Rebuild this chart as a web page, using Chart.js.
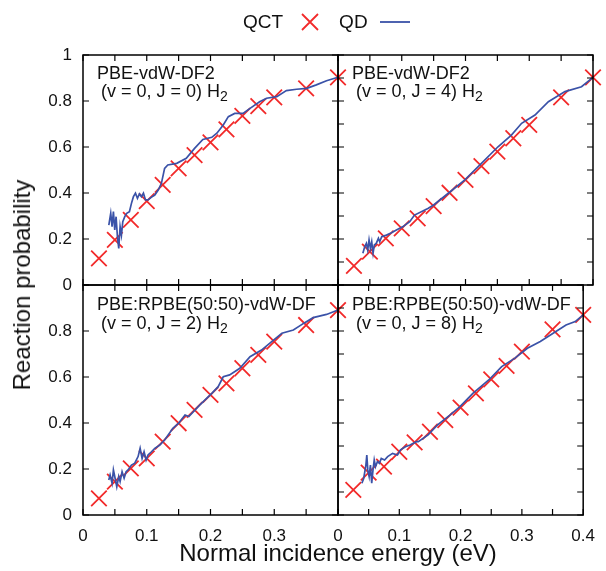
<!DOCTYPE html>
<html>
<head>
<meta charset="utf-8">
<script src="https://cdn.jsdelivr.net/npm/chart.js@4.4.1/dist/chart.umd.min.js"></script>
<style>
  body { margin: 0; background: #fff; }
  #wrap { position: relative; width: 606px; height: 571px; font-family: "Liberation Sans", Arial, sans-serif; color: #111; }
  #wrap canvas { position: absolute; left: 0; top: 0; }
  .lbl { position: absolute; font-size: 18px; line-height: 18px; white-space: nowrap; }
  .lbl sub { font-size: 14px; vertical-align: -4px; line-height: 0; }
  #ytitle { position: absolute; left: 22px; top: 285px; font-size: 24px; white-space: nowrap; transform: translate(-50%, -50%) rotate(-90deg); }
  #xtitle { position: absolute; left: 338px; top: 553px; font-size: 24px; white-space: nowrap; transform: translate(-50%, -50%); }
  #legend { position: absolute; left: 243px; top: 10px; height: 24px; display: flex; align-items: center; font-size: 19px; }
</style>
</head>
<body>
<div id="wrap">
  <canvas id="c00" width="606" height="571"></canvas>
  <canvas id="c01" width="606" height="571"></canvas>
  <canvas id="c10" width="606" height="571"></canvas>
  <canvas id="c11" width="606" height="571"></canvas>

  <div id="legend">
    <span>QCT</span>
    <svg width="20" height="20" style="margin-left:17px"><path d="M2 2 L18 18 M18 2 L2 18" stroke="#f22a2a" stroke-width="1.8"/></svg>
    <span style="margin-left:19px">QD</span>
    <svg width="30" height="20" style="margin-left:12px"><path d="M0 10 L30 10" stroke="#3a52a8" stroke-width="1.8"/></svg>
  </div>

  <div class="lbl" style="left:97px;top:64px">PBE-vdW-DF2</div>
  <div class="lbl" style="left:101px;top:82px">(v = 0, J = 0) H<sub>2</sub></div>
  <div class="lbl" style="left:352px;top:64px">PBE-vdW-DF2</div>
  <div class="lbl" style="left:356px;top:82px">(v = 0, J = 4) H<sub>2</sub></div>
  <div class="lbl" style="left:97px;top:295px">PBE:RPBE(50:50)-vdW-DF</div>
  <div class="lbl" style="left:101px;top:314px">(v = 0, J = 2) H<sub>2</sub></div>
  <div class="lbl" style="left:352px;top:295px">PBE:RPBE(50:50)-vdW-DF</div>
  <div class="lbl" style="left:356px;top:314px">(v = 0, J = 8) H<sub>2</sub></div>

  <div id="ytitle">Reaction probability</div>
  <div id="xtitle">Normal incidence energy (eV)</div>
</div>

<script>
// QCT energies are the same in every panel
const qctE = [0.025, 0.05, 0.075, 0.1, 0.125, 0.15, 0.175, 0.2, 0.225, 0.25, 0.275, 0.3, 0.35, 0.4];
const qctJ0 = [0.116, 0.196, 0.283, 0.365, 0.435, 0.507, 0.565, 0.62, 0.677, 0.735, 0.778, 0.816, 0.855, 0.903];
const qctJ4 = [0.083, 0.145, 0.203, 0.246, 0.29, 0.343, 0.401, 0.457, 0.517, 0.58, 0.638, 0.696, 0.816, 0.903];
const qctJ2 = [0.072, 0.145, 0.203, 0.246, 0.319, 0.399, 0.457, 0.522, 0.572, 0.638, 0.696, 0.754, 0.826, 0.891];
const qctJ8 = [0.109, 0.184, 0.21, 0.275, 0.316, 0.362, 0.413, 0.467, 0.529, 0.59, 0.648, 0.71, 0.807, 0.87];

// QD curves
const qdJ0E = [0.0405, 0.0435, 0.0456, 0.0477, 0.0498, 0.0519, 0.054, 0.0561, 0.0582, 0.0603, 0.0624, 0.0655, 0.0686, 0.0728, 0.076, 0.0791, 0.0823, 0.0854, 0.0885, 0.0917, 0.0948, 0.098, 0.102, 0.107, 0.1126, 0.118, 0.123, 0.128, 0.133, 0.147, 0.162, 0.175, 0.188, 0.202, 0.21, 0.22, 0.228, 0.238, 0.251, 0.262, 0.277, 0.288, 0.304, 0.319, 0.335, 0.351, 0.366, 0.382, 0.4];
const qdJ0P = [0.26, 0.312, 0.254, 0.319, 0.239, 0.297, 0.21, 0.159, 0.254, 0.217, 0.275, 0.297, 0.312, 0.319, 0.355, 0.384, 0.399, 0.377, 0.396, 0.384, 0.399, 0.37, 0.37, 0.381, 0.391, 0.413, 0.442, 0.507, 0.522, 0.529, 0.551, 0.594, 0.633, 0.642, 0.66, 0.696, 0.732, 0.746, 0.746, 0.768, 0.797, 0.812, 0.819, 0.845, 0.851, 0.855, 0.87, 0.888, 0.903];

const qdJ4E = [0.039, 0.042, 0.0445, 0.0466, 0.0487, 0.0508, 0.0529, 0.055, 0.057, 0.06, 0.0634, 0.0654, 0.0686, 0.076, 0.084, 0.0916, 0.102, 0.1125, 0.12, 0.141, 0.15, 0.173, 0.199, 0.225, 0.251, 0.272, 0.288, 0.309, 0.33, 0.356, 0.382, 0.4];
const qdJ4P = [0.138, 0.167, 0.181, 0.152, 0.196, 0.159, 0.188, 0.138, 0.174, 0.181, 0.203, 0.188, 0.21, 0.217, 0.227, 0.239, 0.254, 0.275, 0.304, 0.333, 0.348, 0.399, 0.457, 0.529, 0.601, 0.652, 0.703, 0.739, 0.797, 0.841, 0.862, 0.903];

const qdJ2E = [0.0404, 0.0425, 0.0456, 0.0477, 0.0509, 0.053, 0.056, 0.0582, 0.0613, 0.0645, 0.0676, 0.0707, 0.076, 0.0812, 0.0864, 0.0896, 0.0927, 0.0958, 0.099, 0.102, 0.1074, 0.1126, 0.1205, 0.128, 0.141, 0.15, 0.16, 0.166, 0.183, 0.202, 0.212, 0.22, 0.23, 0.246, 0.262, 0.28, 0.296, 0.312, 0.33, 0.346, 0.361, 0.382, 0.4];
const qdJ2P = [0.152, 0.174, 0.138, 0.196, 0.152, 0.123, 0.167, 0.145, 0.188, 0.16, 0.188, 0.196, 0.217, 0.225, 0.254, 0.29, 0.246, 0.275, 0.239, 0.261, 0.275, 0.29, 0.304, 0.326, 0.377, 0.399, 0.435, 0.428, 0.478, 0.529, 0.558, 0.601, 0.609, 0.638, 0.688, 0.717, 0.754, 0.79, 0.804, 0.833, 0.858, 0.872, 0.891];

const qdJ8E = [0.039, 0.042, 0.0455, 0.047, 0.0486, 0.0508, 0.0529, 0.055, 0.0571, 0.0591, 0.0612, 0.0643, 0.0675, 0.0706, 0.076, 0.081, 0.089, 0.097, 0.102, 0.11, 0.1176, 0.128, 0.131, 0.147, 0.162, 0.183, 0.199, 0.22, 0.246, 0.267, 0.288, 0.309, 0.33, 0.351, 0.372, 0.387, 0.4];
const qdJ8P = [0.138, 0.16, 0.217, 0.261, 0.196, 0.167, 0.217, 0.138, 0.196, 0.239, 0.21, 0.232, 0.225, 0.246, 0.239, 0.254, 0.268, 0.261, 0.283, 0.297, 0.304, 0.319, 0.319, 0.348, 0.391, 0.435, 0.471, 0.529, 0.587, 0.645, 0.681, 0.725, 0.754, 0.79, 0.826, 0.841, 0.87];

const RED = '#f22a2a';
const BLUE = '#3a52a8';
const tickFont = { family: '"Liberation Sans", Arial, sans-serif', size: 17 };

function pts(xs, ys) {
    return xs.map((x, i) => ({ x: x, y: ys[i] }));
}

// frame + inward tick marks on all four sides
const framePlugin = {
    id: 'frame',
    afterDraw(chart) {
        const ctx = chart.ctx;
        const a = chart.chartArea;
        const xs = chart.scales.x, ys = chart.scales.y;
        ctx.save();
        ctx.strokeStyle = '#000';
        ctx.lineWidth = 1.5;
        ctx.strokeRect(a.left, a.top, a.right - a.left, a.bottom - a.top);
        ctx.lineWidth = 1.2;
        ctx.beginPath();
        xs.ticks.forEach(t => {
            const px = xs.getPixelForValue(t.value);
            ctx.moveTo(px, a.bottom); ctx.lineTo(px, a.bottom - 6);
            ctx.moveTo(px, a.top); ctx.lineTo(px, a.top + 6);
        });
        ys.ticks.forEach(t => {
            const py = ys.getPixelForValue(t.value);
            ctx.moveTo(a.left, py); ctx.lineTo(a.left + 6, py);
            ctx.moveTo(a.right, py); ctx.lineTo(a.right - 6, py);
        });
        ctx.stroke();
        ctx.restore();
    }
};

function makePanel(id, qctY, qdE, qdP, col, row) {
    const showY = col === 0;
    const showX = row === 1;
    const yW = showY ? 55 : 0;
    const xH = showX ? 32 : 0;
    const left = col === 0 ? 83 : 338;
    const right = col === 0 ? 338 : 593;
    const top = row === 0 ? 55 : 285;
    const bottom = row === 0 ? 285 : 515;
    return new Chart(document.getElementById(id), {
        type: 'scatter',
        data: {
            datasets: [
                {
                    label: 'QD',
                    data: pts(qdE, qdP),
                    showLine: true,
                    borderColor: BLUE,
                    borderWidth: 1.7,
                    pointRadius: 0,
                    tension: 0,
                    order: 0,
                    clip: false
                },
                {
                    label: 'QCT',
                    data: pts(qctE, qctY),
                    showLine: false,
                    pointStyle: 'crossRot',
                    pointRadius: 11,
                    borderColor: RED,
                    backgroundColor: RED,
                    borderWidth: 1.8,
                    order: 1,
                    clip: false
                }
            ]
        },
        options: {
            responsive: false,
            animation: false,
            devicePixelRatio: 1,
            layout: {
                autoPadding: false,
                padding: { left: left - yW, right: 606 - right, top: top, bottom: 571 - bottom - xH }
            },
            plugins: { legend: { display: false }, tooltip: { enabled: false } },
            scales: {
                x: {
                    type: 'linear',
                    min: 0, max: 0.4,
                    grid: { display: false, drawTicks: false },
                    border: { display: false },
                    afterFit: s => { s.height = xH; },
                    ticks: {
                        stepSize: 0.05,
                        autoSkip: false,
                        maxRotation: 0,
                        padding: 11,
                        display: showX,
                        color: '#111',
                        font: tickFont,
                        callback: function (v) {
                            const k = Math.round(v * 20);
                            if (k % 2 !== 0) return '';
                            if (col === 0 && k === 8) return '';
                            return String(+(v).toFixed(1));
                        }
                    }
                },
                y: {
                    type: 'linear',
                    min: 0, max: 1,
                    grid: { display: false, drawTicks: false },
                    border: { display: false },
                    afterFit: s => { s.width = yW; },
                    ticks: {
                        stepSize: 0.1,
                        padding: 11,
                        display: showY,
                        color: '#111',
                        font: tickFont,
                        callback: function (v) {
                            const k = Math.round(v * 10);
                            if (k % 2 !== 0) return '';
                            if (row === 1 && k === 10) return '';
                            return String(+(v).toFixed(1));
                        }
                    }
                }
            }
        },
        plugins: [framePlugin]
    });
}

makePanel('c00', qctJ0, qdJ0E, qdJ0P, 0, 0);
makePanel('c01', qctJ4, qdJ4E, qdJ4P, 1, 0);
makePanel('c10', qctJ2, qdJ2E, qdJ2P, 0, 1);
makePanel('c11', qctJ8, qdJ8E, qdJ8P, 1, 1);
</script>
</body>
</html>
